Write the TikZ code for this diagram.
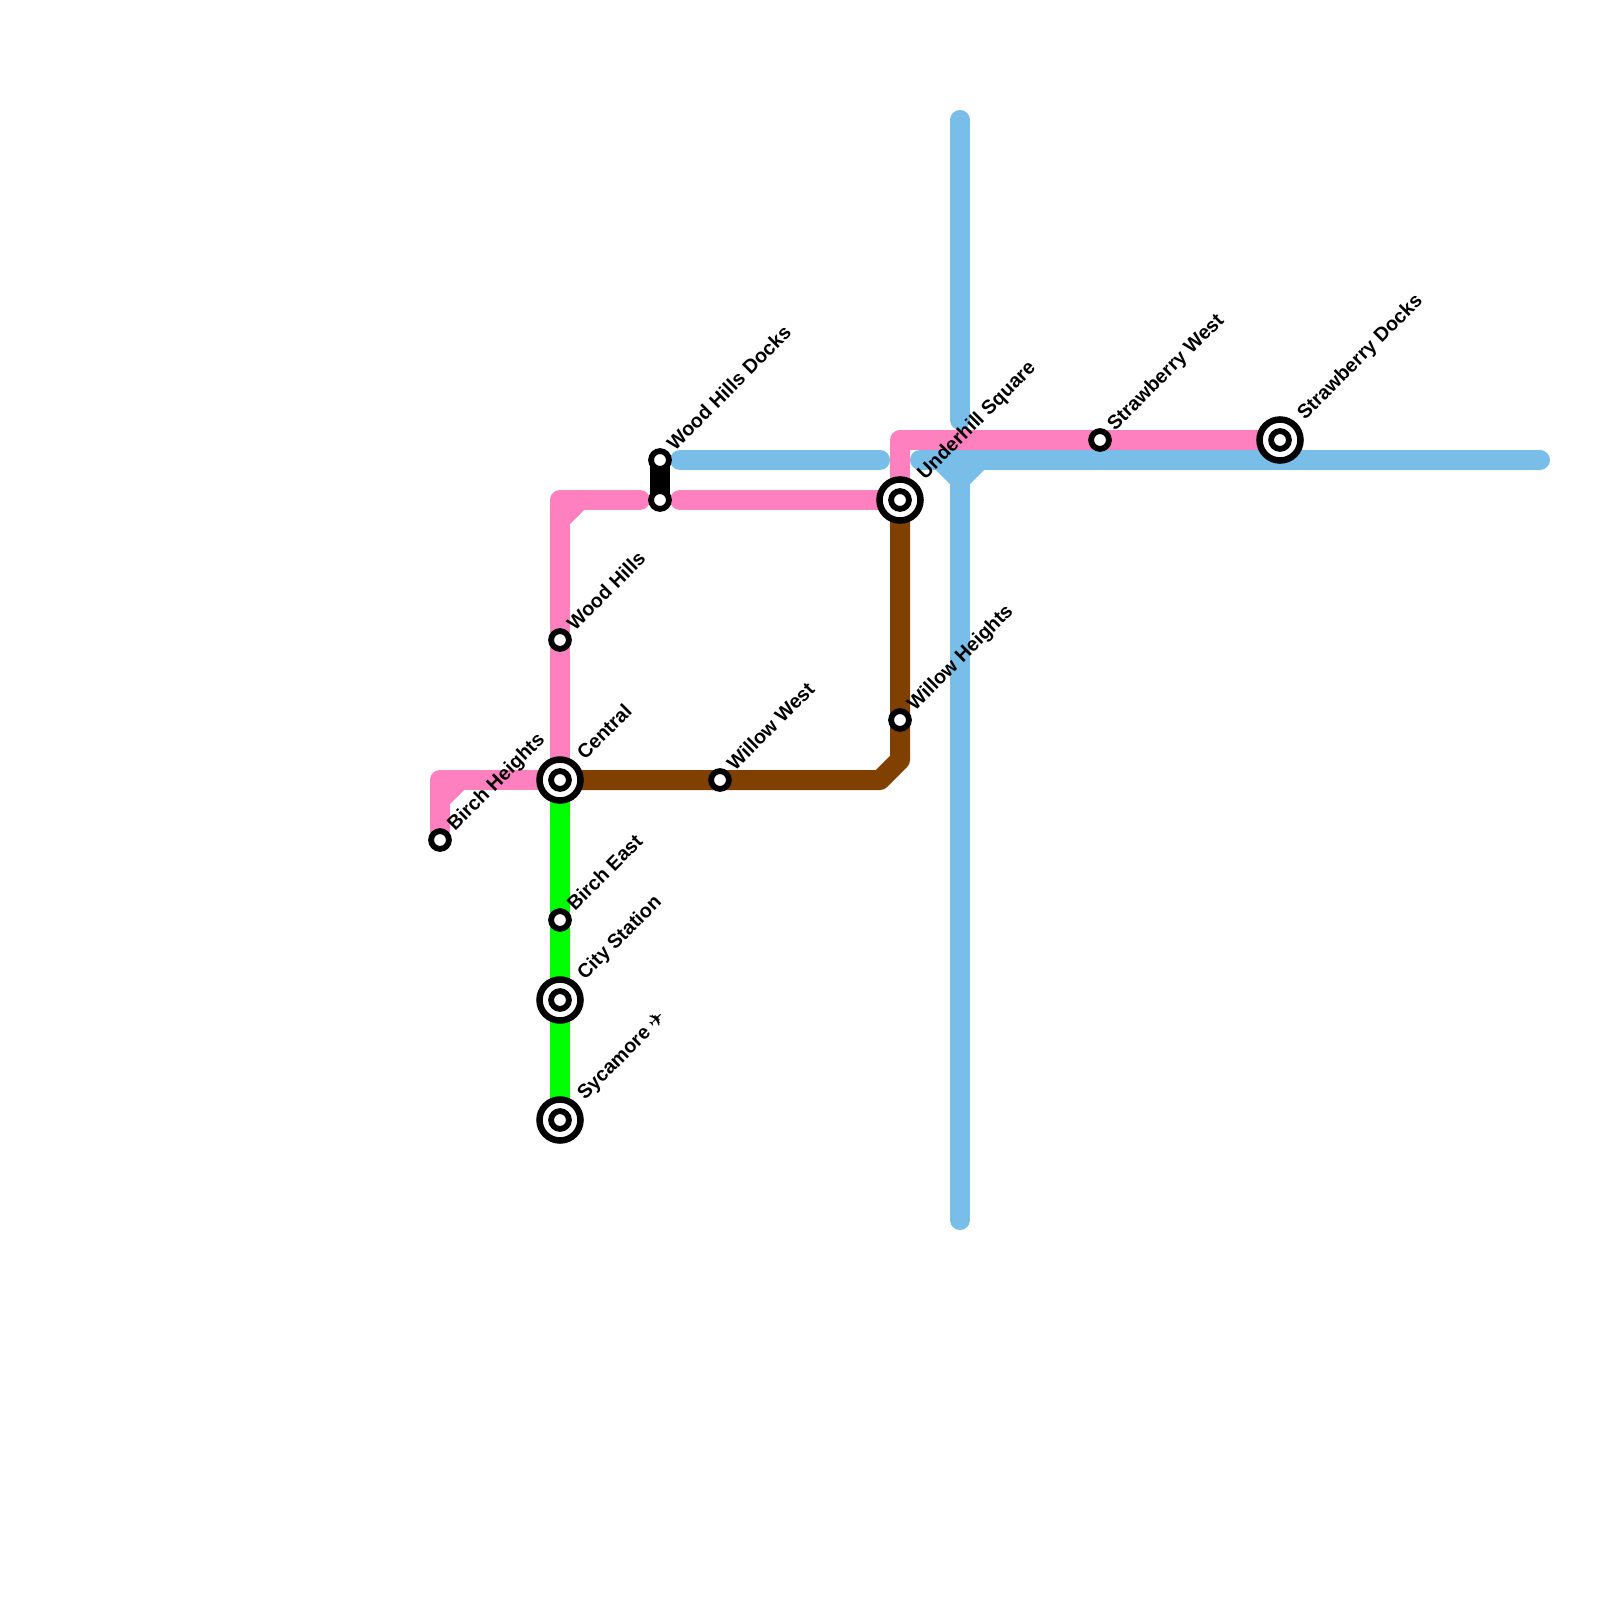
\documentclass[tikz,border=0pt]{standalone}
\usepackage{fontspec}
\setmainfont{Liberation Sans}
\newfontfamily\planefont{DejaVu Sans}
\definecolor{pinkline}{HTML}{FF80BF}
\definecolor{blueline}{HTML}{79BDE9}
\definecolor{brownline}{HTML}{804000}
\definecolor{greenline}{HTML}{00FF00}
\tikzset{metro/.style={line width=2mm, line cap=round, line join=round},
stop/.style={circle, draw=black, fill=white, line width=0.58mm, minimum size=1.78mm, inner sep=0pt, outer sep=0pt},
hub/.style={circle, draw=black, fill=white, line width=0.65mm, minimum size=4.1mm, inner sep=0pt, outer sep=0pt},
stoplabel/.style={rotate=45, anchor=base west, inner sep=0pt, font=\fontsize{5.6}{6}\selectfont\bfseries}}
\begin{document}
\begin{tikzpicture}[x=0.01cm,y=-0.01cm]
		\useasboundingbox (0,0) rectangle (1600,1600);
		\fill[white] (0,0) rectangle (1600,1600);
		% stations
		\coordinate (birchheights) at (440,840);
		\coordinate (central) at (560,780);
		\coordinate (woodhills) at (560,640);
		\coordinate (bircheast) at (560,920);
		\coordinate (citystation) at (560,1000);
		\coordinate (sycamore) at (560,1120);
		\coordinate (woodhillsdocks) at (660,460);
		\coordinate (blacklower) at (660,500);
		\coordinate (willowwest) at (720,780);
		\coordinate (underhill) at (900,500);
		\coordinate (willowheights) at (900,720);
		\coordinate (strawberrywest) at (1100,440);
		\coordinate (strawberrydocks) at (1280,440);
		% blue
		\draw[metro,blueline] (960,120) coordinate (bluetop) -- (960,420) coordinate (bluestub);
		\draw[metro,blueline] (680,460) coordinate (blueleft) -- (880,460) coordinate (bluemid);
		\coordinate (bluefork) at (960,480);
		\draw[metro,blueline] (920,460) coordinate (bluein) -- (1540,460) coordinate (blueright);
		\draw[metro,blueline] (940,460) coordinate (bluea) -- (bluefork) -- (980,460) coordinate (blueb);
		\draw[metro,blueline] (bluefork) -- (960,1220) coordinate (bluebottom);
		\draw[metro,blueline] (960,460) coordinate (bluec) -- (bluefork);
		% pink
		\draw[metro,pinkline] (birchheights) -- (440,780) coordinate (pinka) -- (central);
		\draw[metro,pinkline] (440,800) coordinate (pinkb) -- (460,780) coordinate (pinkc);
		\draw[metro,pinkline] (central) -- (woodhills) -- (560,500) coordinate (pinkd) -- (640,500) coordinate (pinke);
		\draw[metro,pinkline] (560,520) coordinate (pinkf) -- (580,500) coordinate (pinkg);
		\draw[metro,pinkline] (680,500) coordinate (pinkh) -- (underhill) -- (900,440) coordinate (pinki) -- (strawberrywest) -- (strawberrydocks);
		% green, brown, black
		\draw[metro,greenline] (central) -- (bircheast) -- (citystation) -- (sycamore);
		\draw[metro,brownline] (central) -- (willowwest) -- (880,780) coordinate (browna) -- (900,760) coordinate (brownb) -- (willowheights) -- (underhill);
		\draw[metro,black] (woodhillsdocks) -- (blacklower);
		% markers
		\foreach \p in {central,citystation,sycamore,underhill,strawberrydocks}
			\node[hub] (\p-ring) at (\p) {};
		\foreach \p in {birchheights,woodhills,bircheast,woodhillsdocks,blacklower,willowwest,willowheights,strawberrywest,central,citystation,sycamore,underhill,strawberrydocks}
			\node[stop] (\p-stop) at (\p) {};
		% labels
		\foreach \p/\t in {birchheights/Birch Heights,woodhills/Wood Hills,bircheast/Birch East,woodhillsdocks/Wood Hills Docks,willowwest/Willow West,willowheights/Willow Heights,strawberrywest/Strawberry West}
			\node[stoplabel] (\p-label) at ([shift={(14.5,-8)}]\p) {\t};
		\foreach \p/\t in {central/Central,citystation/City Station,sycamore/Sycamore {\planefont ✈},underhill/Underhill Square,strawberrydocks/Strawberry Docks}
			\node[stoplabel] (\p-label) at ([shift={(24.5,-19)}]\p) {\t};
	\end{tikzpicture}
\end{document}
